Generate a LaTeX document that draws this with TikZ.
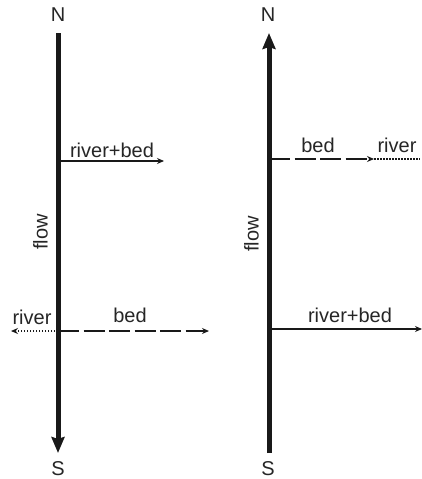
\documentclass[tikz,border=0pt]{standalone}
\usepackage{fontspec}
\setmainfont{Liberation Sans}
\usetikzlibrary{arrows.meta}
\begin{document}
\begin{tikzpicture}[x=1pt,y=-1pt,
 lbl/.style={font=\fontsize{20}{24}\selectfont, text=black!85, inner sep=0pt},
 mainline/.style={line width=5pt, draw=black!90},
 branch/.style={line width=2pt, draw=black!90},
 bigtip/.style={-{Stealth[length=16pt,width=13pt,inset=2pt]}},
 smalltip/.style={-{Stealth[length=7pt,width=6pt]}},
 dashline/.style={dash pattern=on 21pt off 4.5pt},
 dotline/.style={dash pattern=on 1.5pt off 1.5pt, line width=1.6pt}]
\useasboundingbox (0,0) rectangle (422,479);
% left panel
\node[lbl] (LN) at (58,15) {N};
\node[lbl] (LS) at (58,469) {S};
\coordinate (Ltop) at (58,33);
\coordinate (Lbot) at (58,453);
\draw[mainline, bigtip] (Ltop) -- (Lbot);
\node[lbl, rotate=90, anchor=south] (Lflow) at (48,232) {flow};
\coordinate (L1) at (58,161);
\coordinate (L1e) at (164,161);
\draw[branch, smalltip] (L1) -- (L1e);
\node[lbl, anchor=south] (L1t) at (112,158) {river+bed};
\coordinate (L2) at (58,331);
\coordinate (L2w) at (11,331);
\coordinate (L2e) at (209,331);
\draw[branch, dotline, smalltip] (L2) -- (L2w);
\draw[branch, dashline, smalltip] (L2) -- (L2e);
\node[lbl, anchor=south] (L2r) at (32,325) {river};
\node[lbl, anchor=south] (L2b) at (130,323) {bed};
% right panel
\node[lbl] (RN) at (268,15) {N};
\node[lbl] (RS) at (268,469) {S};
\coordinate (Rtop) at (269,33);
\coordinate (Rbot) at (269,453);
\draw[mainline, bigtip] (Rbot) -- (Rtop);
\node[lbl, rotate=90, anchor=south] (Rflow) at (259,234) {flow};
\coordinate (R1) at (269,159);
\coordinate (R1m) at (374,159);
\coordinate (R1e) at (420,159);
\draw[branch, dashline, smalltip] (R1) -- (R1m);
\draw[branch, dotline] (R1m) -- (R1e);
\node[lbl, anchor=south] (R1b) at (318,153) {bed};
\node[lbl, anchor=south] (R1r) at (397,153) {river};
\coordinate (R2) at (269,329);
\coordinate (R2e) at (422,329);
\draw[branch, smalltip] (R2) -- (R2e);
\node[lbl, anchor=south] (R2t) at (350,323) {river+bed};
\end{tikzpicture}
\end{document}
